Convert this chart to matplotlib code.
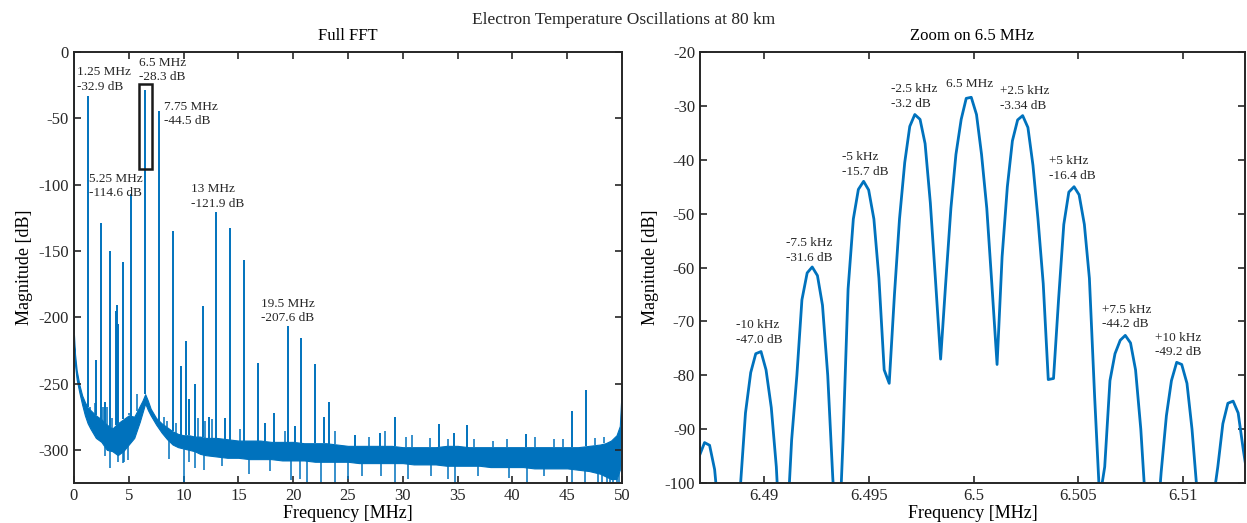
"""
Electron temperature oscillations at 80 km - full FFT and zoom on the 6.5 MHz line.
"""

import numpy as np
import matplotlib.pyplot as plt
from matplotlib.patches import Rectangle

plt.rcParams["font.family"] = ["Liberation Serif", "DejaVu Serif"]
plt.rcParams["axes.unicode_minus"] = False

AZUL = "#0072BD"

# ---- full FFT: discrete lines (MHz, dB) ----
spike_mhz = [0.0, 1.25, 2.0, 2.5, 2.8, 3.25, 3.8, 3.95, 4.05, 4.5, 5.25, 6.5, 7.75,
             9.0, 9.75, 10.25, 10.5, 11.0, 11.75, 12.3, 13.0, 13.8, 14.25, 15.5,
             16.75, 17.4, 18.25, 19.5, 20.2, 20.75, 22.0, 22.8, 23.25, 25.6,
             27.9, 29.3, 33.3, 34.7, 35.85, 41.2, 45.45, 46.7]
spike_db = [0.0, -32.9, -232, -129, -264, -150, -195, -191, -205, -158, -107, -28.3, -44.5,
            -135, -237, -218, -262, -250, -191.5, -275, -120.5, -276, -133, -157,
            -234.5, -280, -272.5, -206.5, -282, -216, -235, -275, -264, -289,
            -287, -275, -280.5, -287, -281, -288, -271, -255]

# small ripples sitting on the noise floor
ripple_mhz = [1.5, 1.9, 2.65, 3.0, 3.5, 5.0, 5.75, 8.2, 8.5, 9.35, 11.3, 12.0, 12.6,
              15.14, 19.25, 23.8, 26.9, 28.4, 30.3, 30.87, 32.5, 34.1, 36.5,
              38.2, 39.5, 42.1, 43.8, 44.6, 47.5, 48.4]
ripple_db = [-268, -265, -268, -268, -276, -272, -258, -275, -278, -280, -276, -278, -277,
             -284, -286, -285.6, -290, -286, -290, -289, -291, -292, -292,
             -293, -292, -290, -292, -292, -291, -290]

# ---- full FFT: noise floor envelope (MHz, upper dB, lower dB) ----
floor_mhz = [0.0, 0.1, 0.25, 0.5, 0.75, 1.0, 1.25, 1.5,
             2.0, 2.5, 3.0, 3.5, 4.0, 4.5, 5.0, 5.5, 6.0,
             6.25, 6.5, 6.75,
             7.0, 7.5, 8.0, 8.5, 9.0, 9.5, 10.0, 10.5, 11.0, 11.5, 12.0,
             13, 14, 15, 16, 17, 18, 19, 20, 21, 22, 23, 24,
             25, 26, 27, 28, 29, 30, 31, 32, 33, 34, 35, 36,
             37, 38, 39, 40, 41, 42, 43, 44, 45, 46, 47, 48,
             48.5, 49.0, 49.5, 49.8, 50.0]
floor_top = [-213, -228, -240, -251, -259, -264, -268, -270,
             -274, -277, -281, -284, -280, -277, -274, -275, -267,
             -263, -258, -263,
             -269, -276, -280, -283, -286, -288, -289, -289, -290, -290, -291,
             -291, -292, -293, -293, -293, -294, -294, -294, -295, -295, -295, -296,
             -297, -297, -297, -297, -297, -298, -298, -298, -298, -297, -297, -298,
             -298, -298, -298, -298, -298, -298, -298, -298, -298, -298, -297, -296,
             -295, -293, -289, -282, -250]
floor_bot = [-222, -236, -247, -257, -266, -274, -280, -284,
             -291, -294, -300, -301, -304, -301, -296, -291, -279,
             -272, -265, -270,
             -274, -281, -287, -292, -296, -298, -299, -300, -301, -303, -304,
             -305, -306, -306, -307, -307, -307, -308, -308, -308, -309, -309, -309,
             -309, -310, -310, -310, -310, -310, -311, -311, -311, -312, -312, -312,
             -312, -313, -313, -313, -313, -314, -314, -314, -314, -315, -316, -318,
             -320, -322, -322, -315, -255]

# downward excursions of the noise
dip_mhz = [2.8, 3.28, 4.0, 4.44, 4.6, 4.9, 8.66, 10.0, 10.5, 11.04, 11.85, 13.5,
           16.0, 17.9, 19.8, 20.6, 21.3, 22.5, 23.8, 25.0, 26.3, 28.0, 29.3,
           30.5, 32.6, 34.1, 34.8, 36.9, 39.7, 41.3, 42.9, 45.4, 46.6,
           47.8, 48.2, 48.6, 48.9, 49.2, 49.5, 49.7]
dip_db = [-305, -314, -309, -310, -309, -308, -307, -325, -309, -314, -315, -312,
          -318, -316, -323, -322, -325, -325, -325, -322, -320, -320, -325,
          -322, -320, -322, -325, -320, -321, -325, -320, -325, -325,
          -325, -325, -325, -325, -325, -325, -325]

# ---- zoom on 6.5 MHz: FFT bins (MHz, dB) ----
zoom_mhz = [6.48693, 6.48718, 6.48742, 6.48766, 6.48791, 6.48815, 6.48840, 6.48864, 6.48889, 6.48913,
            6.48938, 6.48962, 6.48987, 6.49011, 6.49036, 6.49060, 6.49084, 6.49109, 6.49133, 6.49158,
            6.49182, 6.49207, 6.49231, 6.49256, 6.49280, 6.49305, 6.49329, 6.49354, 6.49378, 6.49402,
            6.49427, 6.49451, 6.49476, 6.49500, 6.49525, 6.49549, 6.49574, 6.49598, 6.49623, 6.49647,
            6.49672, 6.49696, 6.49720, 6.49745, 6.49769, 6.49794, 6.49818, 6.49843, 6.49867, 6.49892,
            6.49916, 6.49941, 6.49965, 6.49989, 6.50014, 6.50038, 6.50063, 6.50087, 6.50112, 6.50136,
            6.50161, 6.50185, 6.50210, 6.50234, 6.50259, 6.50283, 6.50307, 6.50332, 6.50356, 6.50381,
            6.50405, 6.50430, 6.50454, 6.50479, 6.50503, 6.50528, 6.50552, 6.50577, 6.50601, 6.50625,
            6.50650, 6.50674, 6.50699, 6.50723, 6.50748, 6.50772, 6.50797, 6.50821, 6.50846, 6.50870,
            6.50894, 6.50919, 6.50943, 6.50968, 6.50992, 6.51017, 6.51041, 6.51066, 6.51090, 6.51115,
            6.51139, 6.51164, 6.51188, 6.51212, 6.51237, 6.51261, 6.51286, 6.51310]
zoom_db = [-95, -92.5, -93, -97.5, -108, -125, -120, -108, -100.5, -87,
           -79.5, -76, -75.6, -79, -86, -97, -115, -110, -92, -80,
           -66, -61, -59.9, -61.5, -67, -80, -99, -115, -92, -64,
           -51, -45.5, -44, -45.6, -51, -62, -79, -81.5, -65, -51,
           -40.5, -33.8, -31.6, -32.5, -37, -48, -62, -77, -63, -49,
           -39, -32.5, -28.6, -28.4, -31.6, -39, -49, -63, -78, -58,
           -45, -36.5, -32.6, -31.8, -34, -41, -51, -63, -80.8, -80.6,
           -66, -52, -46, -45.0, -46.5, -52, -62, -84, -103, -97,
           -81, -76, -73.5, -72.6, -74, -79, -90, -105, -115, -110,
           -98, -87.5, -81, -77.6, -78, -81.5, -90, -102, -118, -112,
           -104, -97, -89, -85.2, -84.8, -87, -94, -100]

# ---- labels ----
full_labels = ["1.25 MHz\n-32.9 dB", "6.5 MHz\n-28.3 dB", "7.75 MHz\n-44.5 dB",
               "5.25 MHz\n-114.6 dB", "13 MHz\n-121.9 dB", "19.5 MHz\n-207.6 dB"]
full_label_mhz = [0.24, 5.94, 8.21, 1.39, 10.64, 17.09]
full_label_db = [-28.4, -21.4, -54.5, -108.8, -116.8, -203]

zoom_labels = ["-10 kHz\n-47.0 dB", "-7.5 kHz\n-31.6 dB", "-5 kHz\n-15.7 dB",
               "-2.5 kHz\n-3.2 dB", "6.5 MHz", "+2.5 kHz\n-3.34 dB",
               "+5 kHz\n-16.4 dB", "+7.5 kHz\n-44.2 dB", "+10 kHz\n-49.2 dB"]
zoom_label_mhz = [6.48866, 6.49107, 6.49372, 6.49608, 6.49871, 6.50127,
                  6.50359, 6.50611, 6.50864]
zoom_label_db = [-74.0, -58.8, -42.8, -30.2, -26.5, -30.5, -43.5, -71.1, -76.3]

zoom_xticks = [6.49, 6.495, 6.5, 6.505, 6.51]


def estilo_matlab(ax):
    """Caja cerrada, ticks hacia dentro en los cuatro lados."""
    for s in ax.spines.values():
        s.set_linewidth(1.4)
        s.set_color("#262626")
    ax.tick_params(direction="in", top=True, right=True, length=5, width=1.2,
                   labelsize=12, colors="#262626")


fig = plt.figure(figsize=(12.47, 5.23), dpi=100)
ax_full = fig.add_axes([0.0593, 0.0765, 0.4395, 0.824])
ax_zoom = fig.add_axes([0.5613, 0.0765, 0.437, 0.824])

# --- left: full FFT ---
f_floor = np.array(floor_mhz)
ax_full.fill_between(f_floor, floor_bot, floor_top, color=AZUL, lw=0.8, edgecolor=AZUL)
base_top = np.interp(spike_mhz, floor_mhz, floor_top)
ax_full.vlines(spike_mhz, base_top, spike_db, color=AZUL, lw=1.4)
base_rip = np.interp(ripple_mhz, floor_mhz, floor_top)
ax_full.vlines(ripple_mhz, base_rip, ripple_db, color=AZUL, lw=1.1)
base_bot = np.interp(dip_mhz, floor_mhz, floor_bot)
ax_full.vlines(dip_mhz, dip_db, base_bot, color=AZUL, lw=1.1)
ax_full.add_patch(Rectangle((5.9, -88), 1.2, 64, fill=False, ec="#1a1a1a", lw=1.8, zorder=3))

for txt, x, y in zip(full_labels, full_label_mhz, full_label_db):
    ax_full.text(x, y, txt, fontsize=9.5, ha="left", va="baseline", color="#262626",
                 linespacing=1.3)

ax_full.set_xlim(0, 50)
ax_full.set_ylim(-325, 0)
ax_full.set_xticks(np.arange(0, 51, 5))
ax_full.set_yticks(np.arange(-300, 1, 50))
ax_full.set_xlabel("Frequency [MHz]", fontsize=13, labelpad=1)
ax_full.set_ylabel("Magnitude [dB]", fontsize=13, labelpad=4)
ax_full.set_title("Full FFT", fontsize=12, pad=9)
estilo_matlab(ax_full)

# --- right: zoom ---
ax_zoom.plot(zoom_mhz, zoom_db, color=AZUL, lw=2.0)
for txt, x, y in zip(zoom_labels, zoom_label_mhz, zoom_label_db):
    ax_zoom.text(x, y, txt, fontsize=9.5, ha="left", va="baseline", color="#262626",
                 linespacing=1.3)

ax_zoom.set_xlim(6.48696, 6.51293)
ax_zoom.set_ylim(-100, -20)
ax_zoom.set_xticks(zoom_xticks)
ax_zoom.set_xticklabels([f"{t:g}" for t in zoom_xticks])
ax_zoom.set_yticks(np.arange(-100, -19, 10))
ax_zoom.set_xlabel("Frequency [MHz]", fontsize=13, labelpad=1)
ax_zoom.set_ylabel("Magnitude [dB]", fontsize=13, labelpad=4)
ax_zoom.set_title("Zoom on 6.5 MHz", fontsize=12, pad=9)
estilo_matlab(ax_zoom)

fig.suptitle("Electron Temperature Oscillations at 80 km", fontsize=12.5, y=0.978,
             color="#262626")

fig.savefig("out.png", dpi=100)
plt.close(fig)
